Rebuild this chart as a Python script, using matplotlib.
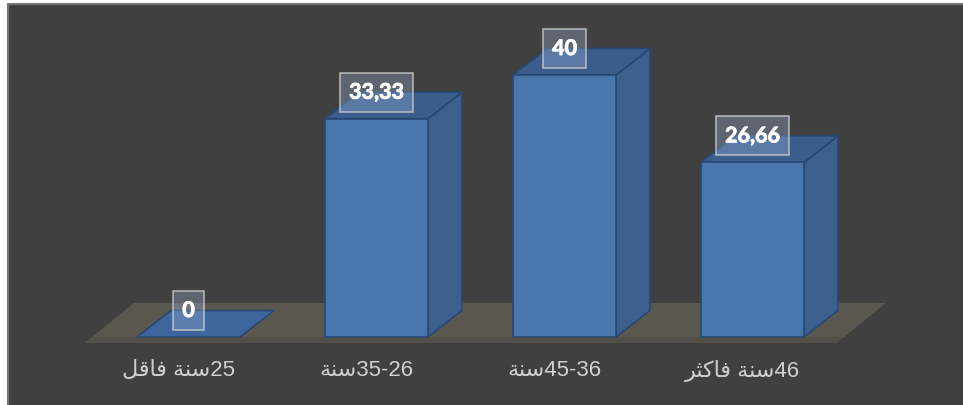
import matplotlib
matplotlib.use("Agg")
import matplotlib.pyplot as plt
import matplotlib.patheffects as pe
from matplotlib.patches import Polygon, Rectangle
from matplotlib.transforms import ScaledTranslation

# ---------------- data ----------------
# Arabic category labels (visual order, contextual presentation forms)
SANA = "\uFE94\uFEE8\uFEB3"          # سنة
FAQAL = "\uFEDE\uFED7\uFE8E\uFED3"   # فاقل
FAKTHAR = "\uFEAE\uFE9C\uFEDB\uFE8E\uFED3"  # فاكثر
categories = [
    FAQAL + " " + SANA + "25",     # 25سنة فاقل
    SANA + "35-26",                # 26-35سنة
    SANA + "45-36",                # 36-45سنة
    FAKTHAR + " " + SANA + "46",   # 46سنة فاكثر
]
values = [0, 33.33, 40, 26.66]
value_labels = ["0", "33,33", "40", "26,66"]

# ---------------- style ----------------
W, H, DPI = 963, 405, 100
BG = "#404040"
FLOOR = "#5a574f"
FLOOR_EDGE = "#524f48"
FRONT = "#4a76ae"
SIDE = "#3d5f8e"
TOP = "#3a5d8c"
EDGE = "#284873"

PX_X = 188.0   # pixels per category
PX_Y = 6.55    # pixels per value unit
HALF_W = 51.5 / PX_X
DX = 34.0 / PX_X
DY = 26.5 / PX_Y

fig = plt.figure(figsize=(W / DPI, H / DPI), dpi=DPI, facecolor="white")

# dark panel with grey border
bg_ax = fig.add_axes([0, 0, 1, 1], zorder=-5)
bg_ax.set_axis_off()
bg_ax.set_xlim(0, 1)
bg_ax.set_ylim(0, 1)
bg_ax.add_patch(Rectangle((8 / W, -0.01), 1.0, (H - 4) / H + 0.01,
                          facecolor=BG, edgecolor="#767676", linewidth=1.5))

ax_bottom = 62  # pixels from bottom
ax = fig.add_axes([0, ax_bottom / H, 1, 1 - ax_bottom / H], zorder=1)
ax.set_facecolor("none")
x0_px = 188.5
ax.set_xlim(-x0_px / PX_X, (W - x0_px) / PX_X)
ax.set_ylim(-6 / PX_Y, 337 / PX_Y)
for s in ax.spines.values():
    s.set_visible(False)
ax.set_yticks([])

def px2x(px):
    return (px - x0_px) / PX_X

# floor
fy0 = -6 / PX_Y
fy_back = 34 / PX_Y
ax.add_patch(Polygon([(px2x(85), fy0), (px2x(837), fy0), (px2x(886), fy_back), (px2x(134), fy_back)],
                     closed=True, facecolor=FLOOR, edgecolor="none", zorder=1, clip_on=False))
ax.add_patch(Polygon([(px2x(85), fy0), (px2x(837), fy0), (px2x(844.5), 0), (px2x(92.5), 0)],
                     closed=True, facecolor=FLOOR_EDGE, edgecolor="none", zorder=1.1, clip_on=False))

# bars
for i, v in enumerate(values):
    xl, xr = i - HALF_W, i + HALF_W
    z = 2 + i * 0.1
    if v > 0:
        ax.add_patch(Polygon([(xr, 0), (xr + DX, DY), (xr + DX, v + DY), (xr, v)], closed=True,
                             facecolor=SIDE, edgecolor=EDGE, linewidth=1.2, zorder=z))
        ax.add_patch(Polygon([(xl, v), (xr, v), (xr + DX, v + DY), (xl + DX, v + DY)], closed=True,
                             facecolor=TOP, edgecolor=EDGE, linewidth=1.2, zorder=z))
        ax.add_patch(Rectangle((xl, 0), 2 * HALF_W, v, facecolor=FRONT, edgecolor=EDGE,
                               linewidth=1.2, zorder=z + 0.01))
    else:
        ax.add_patch(Polygon([(xl, 0), (xr, 0), (xr + DX, DY), (xl + DX, DY)], closed=True,
                             facecolor="#3e659c", edgecolor=EDGE, linewidth=1.2, zorder=z))

# value labels
for i, (v, lab) in enumerate(zip(values, value_labels)):
    t = ax.text(i, v + DY, lab, ha="center", va="center", fontsize=15.5, fontweight="bold",
                family=["Lato", "DejaVu Sans"], color="white", zorder=5,
                bbox=dict(boxstyle="square,pad=0.42", facecolor=(0.65, 0.74, 0.88, 0.3),
                          edgecolor=(0.82, 0.82, 0.82, 0.75), linewidth=1.2))
    t.set_path_effects([pe.withStroke(linewidth=0.6, foreground="white")])

# category labels
ax.set_xticks(range(len(categories)))
ax.set_xticklabels(categories, fontsize=16, color="#d0d0d0",
                   family=["Liberation Sans", "DejaVu Sans"])
ax.tick_params(axis="x", length=0, pad=12)
shift = ScaledTranslation(-10 / DPI, 0, fig.dpi_scale_trans)
for t in ax.get_xticklabels():
    t.set_transform(t.get_transform() + shift)

fig.savefig("out.png", dpi=DPI, facecolor=fig.get_facecolor())
